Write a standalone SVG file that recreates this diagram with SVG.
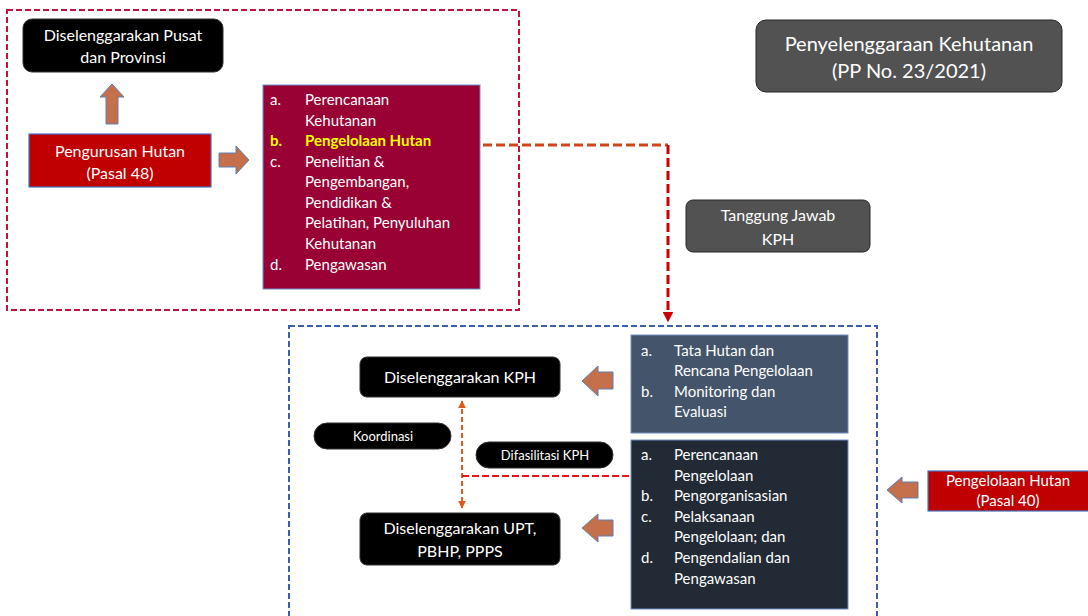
<svg xmlns="http://www.w3.org/2000/svg" width="1088" height="616" viewBox="0 0 1088 616">
<defs>
<style>
text{font-family:Lato,"Open Sans","Liberation Sans",sans-serif;fill:#fff}
.c{text-anchor:middle}
.blk{fill:#000;stroke:#2f2f2f;stroke-width:1}
.gry{fill:#525252;stroke:#262626;stroke-width:1}
.red{fill:#c00000;stroke:#4472c4;stroke-width:1.2}
.arr{fill:#c5704a;stroke:#5b7fb5;stroke-width:1}
.t16{font-size:16px}
.t15{font-size:15px}
.t12{font-size:13px}
</style>
<marker id="mr" viewBox="0 0 10 10" refX="2" refY="5" markerWidth="3.5" markerHeight="3.5" orient="auto" markerUnits="strokeWidth">
<path d="M0,0 L10,5 L0,10 Z" fill="#cc0000"/>
</marker>
<marker id="mo" viewBox="0 0 10 10" refX="9" refY="5" markerWidth="4" markerHeight="4" orient="auto-start-reverse" markerUnits="strokeWidth">
<path d="M0,0 L10,5 L0,10 Z" fill="#e05a1a"/>
</marker>
</defs>

<g id="frames">
<rect x="7" y="10" width="512" height="300" fill="none" stroke="#c0143c" stroke-width="2" stroke-dasharray="6,3"/>
<rect x="289" y="326" width="588" height="300" fill="none" stroke="#3a5ea8" stroke-width="2" stroke-dasharray="6,3"/>
</g>

<g id="connectors">
<path d="M483,145 H668" fill="none" stroke="#d2451a" stroke-width="3" stroke-dasharray="9,4"/>
<path d="M668,145 V314" fill="none" stroke="#cc0000" stroke-width="3" stroke-dasharray="9,4" marker-end="url(#mr)"/>
<path d="M462,401 V508" fill="none" stroke="#e05a1a" stroke-width="2" stroke-dasharray="5,3" marker-start="url(#mo)" marker-end="url(#mo)"/>
<path d="M462,476 H631" fill="none" stroke="#e8161a" stroke-width="2" stroke-dasharray="7,3"/>
<polygon class="arr" points="106,124 118,124 118,97 124,97 112,84 100,97 106,97"/>
<polygon class="arr" points="219,153 236,153 236,146 249,160 236,174 236,167 219,167"/>
<polygon class="arr" points="613,372 598,372 598,366 582,381 598,396 598,389 613,389"/>
<polygon class="arr" points="613,520 598,520 598,514 582,528 598,542 598,536 613,536"/>
<polygon class="arr" points="918,482 902,482 902,477 887,490 902,503 902,498 918,498"/>
</g>

<g id="n-pusat">
<rect class="blk" x="23" y="19" width="200" height="53" rx="9"/>
<text class="c t16" x="123" y="41">Diselenggarakan Pusat</text>
<text class="c t16" x="123" y="63">dan Provinsi</text>
</g>

<g id="n-pengurusan">
<rect class="red" x="29" y="134" width="182" height="53"/>
<text class="c t16" x="120" y="157">Pengurusan Hutan</text>
<text class="c t16" x="120" y="179">(Pasal 48)</text>
</g>

<g id="n-list1">
<rect x="263" y="85" width="217" height="204" fill="#990033" stroke="#6f8fc9" stroke-width="1"/>
<g class="t15">
<text x="270" y="105">a.</text><text x="305" y="105">Perencanaan</text>
<text x="305" y="126">Kehutanan</text>
<text x="270" y="146" style="fill:#ffff00;font-weight:bold">b.</text><text x="305" y="146" style="fill:#ffff00;font-weight:bold">Pengelolaan Hutan</text>
<text x="270" y="167">c.</text><text x="305" y="167">Penelitian &amp;</text>
<text x="305" y="187">Pengembangan,</text>
<text x="305" y="208">Pendidikan &amp;</text>
<text x="305" y="228">Pelatihan, Penyuluhan</text>
<text x="305" y="249">Kehutanan</text>
<text x="270" y="270">d.</text><text x="305" y="270">Pengawasan</text>
</g>
</g>

<g id="n-title">
<rect class="gry" x="756" y="20" width="306" height="72" rx="10"/>
<text class="c" x="909" y="51" style="font-size:20px">Penyelenggaraan Kehutanan</text>
<text class="c" x="909" y="78" style="font-size:20px">(PP No. 23/2021)</text>
</g>

<g id="n-tanggung">
<rect class="gry" x="686" y="200" width="184" height="52" rx="7"/>
<text class="c t16" x="778" y="221">Tanggung Jawab</text>
<text class="c t16" x="778" y="245">KPH</text>
</g>

<g id="n-kph">
<rect class="blk" x="360" y="357" width="200" height="40" rx="7"/>
<text class="c t16" x="460" y="383">Diselenggarakan KPH</text>
</g>

<g id="n-upt">
<rect class="blk" x="360" y="513" width="200" height="52" rx="7"/>
<text class="c t16" x="460" y="534">Diselenggarakan UPT,</text>
<text class="c t16" x="460" y="557">PBHP, PPPS</text>
</g>

<g id="n-koordinasi">
<rect class="blk" x="314" y="423" width="137" height="26" rx="13"/>
<text class="c t12" x="383" y="441">Koordinasi</text>
</g>

<g id="n-difasilitasi">
<rect class="blk" x="476" y="442" width="137" height="26" rx="13"/>
<text class="c t12" x="545" y="460">Difasilitasi KPH</text>
</g>

<g id="n-list2">
<rect x="631" y="335" width="217" height="98" fill="#44546a" stroke="#6f8fc9" stroke-width="1"/>
<g class="t15">
<text x="641" y="356">a.</text><text x="674" y="356">Tata Hutan dan</text>
<text x="674" y="376">Rencana Pengelolaan</text>
<text x="641" y="397">b.</text><text x="674" y="397">Monitoring dan</text>
<text x="674" y="417">Evaluasi</text>
</g>
</g>

<g id="n-list3">
<rect x="631" y="440" width="217" height="169" fill="#222a35" stroke="#6f8fc9" stroke-width="1"/>
<g class="t15">
<text x="641" y="460">a.</text><text x="674" y="460">Perencanaan</text>
<text x="674" y="481">Pengelolaan</text>
<text x="641" y="501">b.</text><text x="674" y="501">Pengorganisasian</text>
<text x="641" y="522">c.</text><text x="674" y="522">Pelaksanaan</text>
<text x="674" y="542">Pengelolaan; dan</text>
<text x="641" y="563">d.</text><text x="674" y="563">Pengendalian dan</text>
<text x="674" y="584">Pengawasan</text>
</g>
</g>

<g id="n-pasal40">
<rect class="red" x="928" y="471" width="162" height="40"/>
<text class="c t15" x="1008" y="486">Pengelolaan Hutan</text>
<text class="c t15" x="1008" y="506">(Pasal 40)</text>
</g>
</svg>
